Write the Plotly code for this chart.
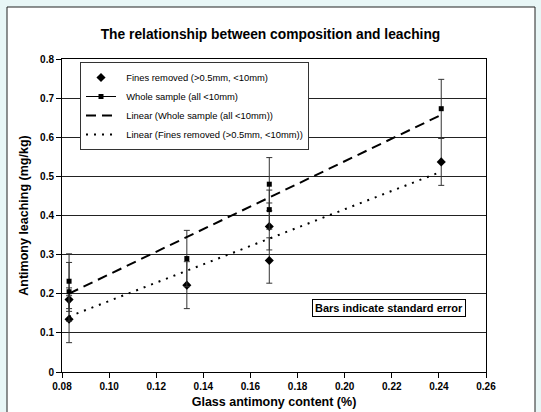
import numpy as np
import plotly.graph_objects as go

# ---- data ----
x_fines = [0.083, 0.083, 0.133, 0.168, 0.168, 0.241]
y_fines = [0.135, 0.185, 0.222, 0.285, 0.372, 0.537]
err_fines = [0.060, 0.030, 0.060, 0.058, 0.060, 0.060]

x_whole = [0.083, 0.083, 0.133, 0.168, 0.168, 0.241]
y_whole = [0.232, 0.205, 0.290, 0.480, 0.415, 0.673]
err_whole = [0.070, 0.075, 0.072, 0.068, 0.050, 0.075]

x_ticks = [0.08, 0.10, 0.12, 0.14, 0.16, 0.18, 0.20, 0.22, 0.24, 0.26]
y_ticks = [0, 0.1, 0.2, 0.3, 0.4, 0.5, 0.6, 0.7, 0.8]

title_text = "The relationship between composition and leaching"
x_title = "Glass antimony content (%)"
y_title = "Antimony leaching (mg/kg)"
name_fines = "Fines removed (>0.5mm, <10mm)"
name_whole = "Whole sample (all <10mm)"
name_lin_whole = "Linear (Whole sample (all <10mm))"
name_lin_fines = "Linear (Fines removed (>0.5mm, <10mm))"
note_text = "Bars indicate standard error"

# linear trend lines (least squares over the data range)
def trend(xs, ys):
    k, b = np.polyfit(xs, ys, 1)
    xr = [min(xs), max(xs)]
    return xr, [k * v + b for v in xr]

tw_x, tw_y = trend(x_whole, y_whole)
tf_x, tf_y = trend(x_fines, y_fines)

FONT = "Liberation Sans, Arial, sans-serif"
ERR_COLOR = "#333333"
PAD = "\u00a0\u00a0"  # small gap between legend symbol and text

fig = go.Figure()

fig.add_trace(go.Scatter(
    x=x_fines, y=y_fines, mode="markers", name=PAD + name_fines,
    marker=dict(symbol="diamond", size=7, color="black"),
    error_y=dict(type="data", array=err_fines, visible=True,
                 color=ERR_COLOR, thickness=1, width=3),
))
fig.add_trace(go.Scatter(
    x=x_whole, y=y_whole, mode="markers", name=name_whole, showlegend=False,
    marker=dict(symbol="square", size=5, color="black"),
    error_y=dict(type="data", array=err_whole, visible=True,
                 color=ERR_COLOR, thickness=1, width=3),
))
# legend entry for whole sample (line + square symbol)
fig.add_trace(go.Scatter(
    x=[None], y=[None], mode="lines+markers", name=PAD + name_whole,
    line=dict(color="black", width=1),
    marker=dict(symbol="square", size=5, color="black"),
))
fig.add_trace(go.Scatter(
    x=tw_x, y=tw_y, mode="lines", name=PAD + name_lin_whole,
    line=dict(color="black", width=2, dash="10px,6px"),
))
fig.add_trace(go.Scatter(
    x=tf_x, y=tf_y, mode="lines", name=PAD + name_lin_fines,
    line=dict(color="black", width=2, dash="2px,6px"),
))

L, R, T, B = 62, 55, 59, 40
W, H = 541, 412
pw, ph = W - L - R, H - T - B

def px_x(p):
    return (p - L) / pw

def px_y(p):
    return (H - B - p) / ph

fig.add_shape(type="rect", xref="paper", yref="paper",
              x0=px_x(7), x1=px_x(535), y0=px_y(418), y1=px_y(7),
              line=dict(color="#222222", width=1), fillcolor="white",
              layer="below")

fig.add_annotation(
    text=note_text, xref="paper", yref="paper",
    x=px_x(389), y=px_y(308), xanchor="center", yanchor="middle",
    showarrow=False,
    font=dict(family=FONT, size=11, color="black", weight="bold"),
    bgcolor="white", bordercolor="black", borderwidth=1, borderpad=2,
)

TICKFONT = dict(size=10, family=FONT, color="black", weight="bold")
AXTITLEFONT = dict(size=12.5, family=FONT, color="black", weight="bold")

fig.update_layout(
    width=W, height=H,
    margin=dict(l=L, r=R, t=T, b=B, pad=0, autoexpand=False),
    paper_bgcolor="#e8f6f6", plot_bgcolor="white",
    font=dict(family=FONT, color="black"),
    title=dict(text=title_text, x=0.5, xanchor="center", xref="container",
               yref="container", y=(H - 34) / H, yanchor="middle",
               font=dict(size=13.8, family=FONT, color="black", weight="bold")),
    showlegend=True,
    legend=dict(x=px_x(80), y=px_y(62), xanchor="left", yanchor="top",
                bgcolor="white", bordercolor="#333333", borderwidth=1,
                font=dict(size=9.4, family=FONT, color="black"),
                itemwidth=30, tracegroupgap=0),
    xaxis=dict(range=[0.08, 0.26], tickvals=x_ticks, tickformat=".2f",
               showgrid=False, zeroline=False, automargin=False,
               showline=True, linecolor="black", linewidth=1, mirror=True,
               ticks="outside", ticklen=5, tickcolor="black",
               tickfont=TICKFONT,
               title=dict(text=x_title, standoff=6, font=AXTITLEFONT)),
    yaxis=dict(range=[0, 0.8], tickvals=y_ticks, automargin=False,
               showgrid=True, gridcolor="#222222", gridwidth=1,
               zeroline=False,
               showline=True, linecolor="black", linewidth=1, mirror=True,
               ticks="outside", ticklen=5, tickcolor="black",
               tickfont=TICKFONT,
               title=dict(text=y_title, standoff=8, font=AXTITLEFONT)),
)

fig.write_html(
    "out.html",
    config={"displayModeBar": False},
    post_script="document.body.style.margin='0';"
                "document.body.style.background='#e8f6f6';",
)
